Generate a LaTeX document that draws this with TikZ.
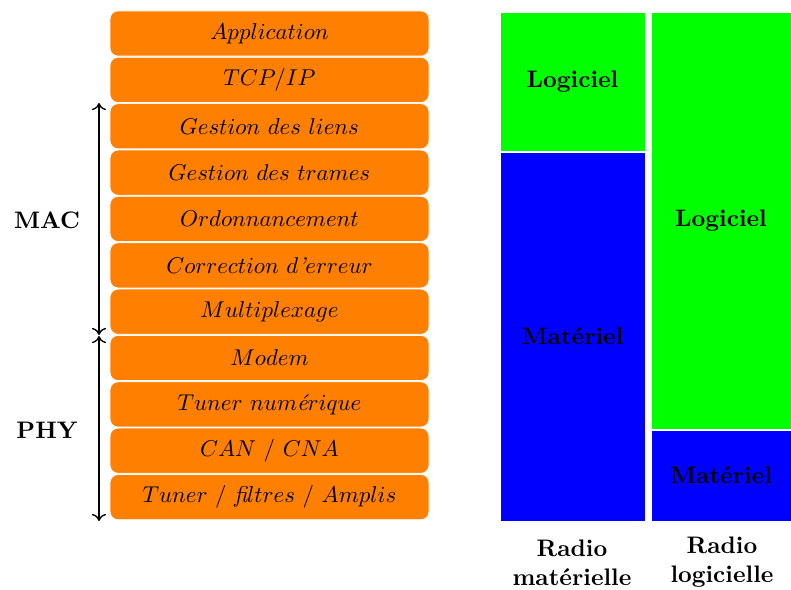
\documentclass[tikz,border=0pt]{standalone}
\usepackage{fix-cm}
\usetikzlibrary{arrows.meta}
\begin{document}
\fontsize{10.75}{13}\selectfont
\begin{tikzpicture}[x=0.45pt,y=-0.45pt,
  layer/.style={draw=white,line width=0.3pt,fill=orange,rounded corners=3.6pt,
    minimum width=143.5pt,minimum height=20.3pt,inner sep=0pt,
    font=\fontsize{10.3}{13}\selectfont},
  blockG/.style={draw=white,line width=0.4pt,fill=green,inner sep=0pt,font=\bfseries},
  blockB/.style={draw=white,line width=0.4pt,fill=blue,inner sep=0pt,font=\bfseries},
  side/.style={font=\bfseries},
  span/.style={{To[length=3.2pt,width=6.4pt]}-{To[length=3.2pt,width=6.4pt]},line width=0.6pt}]
\useasboundingbox (0,0) rectangle (791,589);
% protocol stack
\node[layer] (L0) at (269.5,33.5) {$Application$};
\node[layer] (L1) at (269.5,79.9) {$TCP/IP$};
\node[layer] (L2) at (269.5,126.2) {$Gestion\ des\ liens$};
\node[layer] (L3) at (269.5,172.6) {$Gestion\ des\ trames$};
\node[layer] (L4) at (269.5,218.9) {$Ordonnancement$};
\node[layer] (L5) at (269.5,265.3) {$Correction\ d\textit{'}erreur$};
\node[layer] (L6) at (269.5,311.7) {$Multiplexage$};
\node[layer] (L7) at (269.5,358.0) {$Modem$};
\node[layer] (L8) at (269.5,404.4) {$Tuner\ num\textit{\'e}rique$};
\node[layer] (L9) at (269.5,450.7) {$CAN\ /\ CNA$};
\node[layer] (L10) at (269.5,497.1) {$Tuner\ /\ \textit{fi}ltres\ /\ Amplis$};
% spans
\coordinate (macT) at (99,103);
\coordinate (macB) at (99,335);
\coordinate (phyT) at (99,336);
\coordinate (phyB) at (99,521);
\draw[span] (macT) -- (macB);
\draw[span] (phyT) -- (phyB);
\node[side] (mac) at (47,220) {MAC};
\node[side] (phy) at (47,430) {PHY};
% radio columns
\node[blockG,minimum width=65.25pt,minimum height=62.55pt] (g1) at (572.5,81.5) {Logiciel};
\node[blockB,minimum width=65.25pt,minimum height=166.05pt] (b1) at (572.5,336.5) {Mat\'eriel};
\node[blockG,minimum width=63pt,minimum height=187.65pt] (g2) at (721,220.5) {Logiciel};
\node[blockB,minimum width=63pt,minimum height=40.95pt] (b2) at (721,475.5) {Mat\'eriel};
\node[side,align=center] (r1) at (572,563) {Radio\\mat\'erielle};
\node[side,align=center] (r2) at (722,562) {Radio\\logicielle};
\end{tikzpicture}
\end{document}
